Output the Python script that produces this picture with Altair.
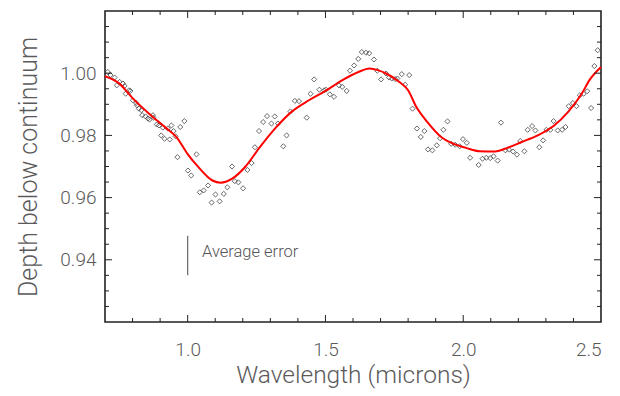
import altair as alt
import pandas as pd

# Observed spectrum points (wavelength in microns, depth below continuum)
obs_wl = [0.710, 0.720, 0.735, 0.743, 0.753, 0.765, 0.771, 0.775, 0.787, 0.792,
          0.801, 0.813, 0.816, 0.823, 0.832, 0.835, 0.847, 0.856, 0.862, 0.874,
          0.876, 0.888, 0.896, 0.904, 0.910, 0.916, 0.928, 0.935, 0.941, 0.949,
          0.956, 0.963, 0.973, 0.988, 1.001, 1.013, 1.032, 1.044, 1.058, 1.074,
          1.087, 1.101, 1.116, 1.131, 1.144, 1.161, 1.171, 1.184, 1.201, 1.217,
          1.232, 1.244, 1.259, 1.274, 1.288,
          1.304, 1.316, 1.328, 1.347, 1.359, 1.373, 1.389, 1.404, 1.432, 1.446,
          1.459, 1.478, 1.495, 1.502, 1.516, 1.531, 1.549, 1.561, 1.577, 1.589,
          1.604, 1.619, 1.632, 1.647, 1.659, 1.676, 1.688, 1.702, 1.720, 1.731,
          1.741, 1.753, 1.761, 1.777, 1.789, 1.804, 1.816, 1.832, 1.846, 1.859,
          1.872,
          1.888, 1.904, 1.916, 1.928, 1.943, 1.956, 1.971, 1.987, 1.999, 2.013,
          2.025, 2.056, 2.070, 2.084, 2.098, 2.110, 2.125, 2.137, 2.153, 2.166,
          2.181, 2.195, 2.207, 2.222, 2.234, 2.250, 2.262, 2.276, 2.290, 2.302,
          2.316, 2.328, 2.343, 2.359, 2.371, 2.383, 2.398, 2.411, 2.423, 2.437,
          2.450, 2.464, 2.476, 2.488]
obs_depth = [1.0004, 0.9994, 0.9986, 0.9961, 0.9972, 0.9967, 0.9959, 0.9934, 0.9945, 0.9943,
             0.9913, 0.9904, 0.9897, 0.9886, 0.9881, 0.9865, 0.9861, 0.9854, 0.9851, 0.9865,
             0.9857, 0.9835, 0.9832, 0.9800, 0.9825, 0.9789, 0.9822, 0.9787, 0.9832, 0.9814,
             0.9797, 0.9730, 0.9827, 0.9846, 0.9687, 0.9671, 0.9739, 0.9617, 0.9623, 0.9639,
             0.9584, 0.9610, 0.9588, 0.9612, 0.9633, 0.9700, 0.9653, 0.9649, 0.9630, 0.9689,
             0.9711, 0.9762, 0.9814, 0.9843, 0.9862,
             0.9838, 0.9861, 0.9838, 0.9765, 0.9800, 0.9877, 0.9911, 0.9910, 0.9857, 0.9934,
             0.9980, 0.9947, 0.9945, 0.9947, 0.9932, 0.9924, 0.9961, 0.9956, 0.9943, 1.0008,
             1.0025, 1.0046, 1.0068, 1.0066, 1.0064, 1.0044, 1.0008, 0.9980, 0.9999, 0.9986,
             0.9983, 0.9981, 0.9983, 0.9997, 0.9963, 0.9994, 0.9886, 0.9822, 0.9795, 0.9814,
             0.9755,
             0.9752, 0.9768, 0.9791, 0.9818, 0.9845, 0.9773, 0.9770, 0.9765, 0.9788, 0.9776,
             0.9728, 0.9705, 0.9725, 0.9728, 0.9727, 0.9733, 0.9719, 0.9841, 0.9752, 0.9754,
             0.9748, 0.9738, 0.9782, 0.9749, 0.9818, 0.9830, 0.9816, 0.9762, 0.9784, 0.9818,
             0.9818, 0.9846, 0.9816, 0.9818, 0.9827, 0.9894, 0.9904, 0.9894, 0.9929, 0.9934,
             0.9942, 0.9888, 1.0023, 1.0074]

# Smooth model curve (red)
fit_wl = [0.70, 0.75, 0.80, 0.86, 0.92, 0.96, 1.00, 1.04, 1.09, 1.12, 1.16, 1.21,
          1.26, 1.32, 1.38, 1.44, 1.50, 1.56, 1.62, 1.66, 1.69, 1.72, 1.76, 1.80,
          1.83, 1.87, 1.92, 1.97, 2.01, 2.06, 2.11, 2.16, 2.21, 2.27, 2.33, 2.38,
          2.43, 2.46, 2.50]
fit_depth = [0.9990, 0.9968, 0.9920, 0.9870, 0.9825, 0.9794, 0.9740, 0.9697, 0.9655,
             0.9648, 0.9660, 0.9700, 0.9760, 0.9825, 0.9878, 0.9913, 0.9943, 0.9977,
             1.0004, 1.0015, 1.0010, 0.9999, 0.9977, 0.9945, 0.9891, 0.9843, 0.9795,
             0.9771, 0.9760, 0.9749, 0.9748, 0.9760, 0.9778, 0.9800, 0.9832, 0.9875,
             0.9934, 0.9980, 1.0020]

# Average error bar annotation
err_wl = [1.0]
err_lo = [0.9350]
err_hi = [0.9477]
err_label = ["Average error"]
err_label_wl = [1.052]
err_label_depth = [0.9425]

# Axis ticks / labels
x_domain = [0.7, 2.5]
y_domain = [0.92, 1.02]
x_label_vals = [1.0, 1.5, 2.0, 2.5]
y_label_vals = [0.94, 0.96, 0.98, 1.00]
x_major_ticks = [1.0, 1.5, 2.0]
x_minor_ticks = [0.8, 0.9, 1.1, 1.2, 1.3, 1.4, 1.6, 1.7, 1.8, 1.9, 2.1, 2.2, 2.3, 2.4]
y_major_ticks = [0.94, 0.96, 0.98, 1.00]
y_minor_ticks = [0.925, 0.93, 0.935, 0.945, 0.95, 0.955, 0.965, 0.97, 0.975,
                 0.985, 0.99, 0.995, 1.005, 1.01, 1.015]

W, H = 496, 311
FONT = "Roboto"
TXT = "#5a5a5a"
MAJ, MIN = 7, 4

xs = alt.Scale(domain=x_domain, nice=False, zero=False)
ys = alt.Scale(domain=y_domain, nice=False, zero=False)

x_axis = alt.Axis(
    title="Wavelength (microns)", values=x_label_vals, format=".1f",
    tickSize=0, ticks=False, domain=False, grid=False, labelPadding=18, titlePadding=4,
    labelFont=FONT, titleFont=FONT, labelFontSize=19, titleFontSize=24.5,
    labelFontWeight=300, titleFontWeight=300,
    labelColor=TXT, titleColor=TXT)
y_axis = alt.Axis(
    title="Depth below continuum", values=y_label_vals, format=".2f",
    tickSize=0, ticks=False, domain=False, grid=False, labelPadding=9, titlePadding=18,
    labelFont=FONT, titleFont=FONT, labelFontSize=19, titleFontSize=25,
    labelFontWeight=300, titleFontWeight=300,
    labelColor=TXT, titleColor=TXT)

obs = pd.DataFrame({"wl": obs_wl, "depth": obs_depth})
fit = pd.DataFrame({"wl": fit_wl, "depth": fit_depth})
err = pd.DataFrame({"wl": err_wl, "lo": err_lo, "hi": err_hi})
lab = pd.DataFrame({"wl": err_label_wl, "depth": err_label_depth, "t": err_label})

points = alt.Chart(obs).mark_point(
    shape="diamond", size=26, filled=False, color="#444444", strokeWidth=0.8, opacity=1
).encode(
    x=alt.X("wl:Q", scale=xs, axis=x_axis),
    y=alt.Y("depth:Q", scale=ys, axis=y_axis),
)

line = alt.Chart(fit).mark_line(color="#ff0000", strokeWidth=2, interpolate="monotone").encode(
    x=alt.X("wl:Q", scale=xs, axis=x_axis),
    y=alt.Y("depth:Q", scale=ys, axis=y_axis),
)

errbar = alt.Chart(err).mark_rule(color="#666666", strokeWidth=1.2).encode(
    x=alt.X("wl:Q", scale=xs, axis=x_axis),
    y=alt.Y("lo:Q", scale=ys, axis=y_axis),
    y2="hi:Q",
)

errtext = alt.Chart(lab).mark_text(
    align="left", baseline="middle", font=FONT, fontSize=16.5, fontWeight=300,
    color="#555555"
).encode(
    x=alt.X("wl:Q", scale=xs, axis=x_axis),
    y=alt.Y("depth:Q", scale=ys, axis=y_axis),
    text="t:N",
)


def xticks(vals, length):
    df = pd.DataFrame({"v": vals})
    base = alt.Chart(df).mark_rule(color="#222222", strokeWidth=1)
    bottom = base.encode(x=alt.X("v:Q", scale=xs, axis=x_axis),
                         y=alt.value(H), y2=alt.value(H - length))
    top = base.encode(x=alt.X("v:Q", scale=xs, axis=x_axis),
                      y=alt.value(0), y2=alt.value(length))
    return [bottom, top]


def yticks(vals, length):
    df = pd.DataFrame({"v": vals})
    base = alt.Chart(df).mark_rule(color="#222222", strokeWidth=1)
    left = base.encode(y=alt.Y("v:Q", scale=ys, axis=y_axis),
                       x=alt.value(0), x2=alt.value(length))
    right = base.encode(y=alt.Y("v:Q", scale=ys, axis=y_axis),
                        x=alt.value(W), x2=alt.value(W - length))
    return [left, right]


tick_layers = (xticks(x_major_ticks, MAJ) + xticks(x_minor_ticks, MIN)
               + yticks(y_major_ticks, MAJ) + yticks(y_minor_ticks, MIN))

chart = alt.layer(points, line, errbar, errtext, *tick_layers).properties(
    width=W, height=H,
    autosize=alt.AutoSizeParams(type="none"),
    padding={"left": 105, "top": 11, "right": 19, "bottom": 74},
    background="white",
).configure_view(stroke="#222222", strokeWidth=1.6)

chart.save("out.html", embed_options={"renderer": "svg", "actions": False})
